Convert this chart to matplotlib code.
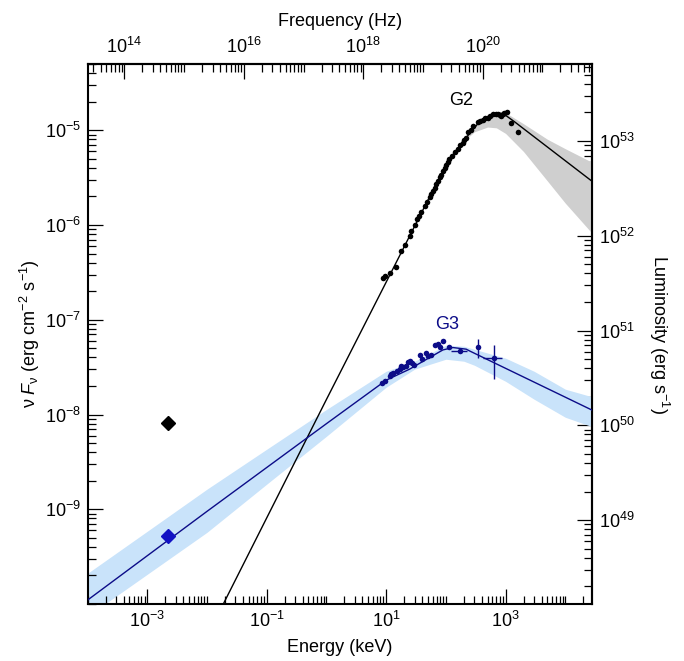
import matplotlib
matplotlib.use('Agg')
import matplotlib.pyplot as plt
from matplotlib.ticker import FixedLocator, LogLocator, LogFormatterSciNotation, NullFormatter
import numpy as np

plt.rcParams['font.family'] = ['Liberation Sans', 'DejaVu Sans']
plt.rcParams['mathtext.fontset'] = 'custom'
plt.rcParams['mathtext.rm'] = 'Liberation Sans'
plt.rcParams['mathtext.it'] = 'Liberation Sans:italic'
plt.rcParams['mathtext.bf'] = 'Liberation Sans:bold'
plt.rcParams['font.size'] = 13

# conversions for the secondary axes
KEV_TO_HZ = 2.418e17
FLUX_TO_LUM = 1.3e58

# G2 (black) spectrum, energies in keV, nuFnu in erg cm-2 s-1
g2_e = [8.83, 9.6, 11.7, 14.4, 17.5, 20.4, 24.7, 26.4, 30, 33, 36, 38.8, 44.1, 48,
        53.4, 57, 60.6, 65, 69.1, 74, 78.5, 84, 89.1, 95, 102, 108, 115, 125, 140,
        159, 175, 192, 205, 219, 233, 260, 290, 343, 380, 416, 450, 504, 550, 611,
        680, 741, 800, 844, 900, 959, 1047]
g2_f = [2.79e-7, 2.9e-7, 3.15e-7, 3.61e-7, 5.32e-7, 6.11e-7, 7.66e-7, 8.65e-7, 1.0e-6,
        1.15e-6, 1.25e-6, 1.37e-6, 1.59e-6, 1.75e-6, 1.95e-6, 2.1e-6, 2.29e-6, 2.45e-6,
        2.69e-6, 2.9e-6, 3.17e-6, 3.4e-6, 3.72e-6, 4.0e-6, 4.27e-6, 4.6e-6, 4.94e-6,
        5.3e-6, 5.82e-6, 6.41e-6, 6.9e-6, 7.41e-6, 7.9e-6, 8.37e-6, 9.59e-6, 1.0e-5,
        1.1e-5, 1.22e-5, 1.25e-5, 1.29e-5, 1.33e-5, 1.36e-5, 1.42e-5, 1.47e-5, 1.5e-5,
        1.47e-5, 1.45e-5, 1.40e-5, 1.5e-5, 1.51e-5, 1.54e-5]
g2_err_e = [1241, 1600]
g2_err_f = [1.18e-5, 9.59e-6]
g2_err_xlo = [60, 80]
g2_err_xhi = [60, 90]

g2_model_e = [0.018, 1.0, 10, 60, 85, 115, 219, 339, 498, 731, 995, 1407, 30000]
g2_model_f = [9.5e-11, 1.44e-8, 2.49e-7, 2.29e-6, 3.4e-6, 4.94e-6, 8.37e-6, 1.16e-5,
              1.39e-5, 1.49e-5, 1.44e-5, 1.23e-5, 2.8e-6]
g2_band_e = [150, 200, 300, 500, 700, 1000, 2000, 5000, 10000, 30000]
g2_band_lo = [6.15e-6, 7.65e-6, 9.62e-6, 1.08e-5, 1.06e-5, 9.25e-6, 5.95e-6, 2.92e-6, 1.70e-6, 7.8e-7]
g2_band_hi = [6.46e-6, 8.04e-6, 1.10e-5, 1.48e-5, 1.57e-5, 1.53e-5, 1.17e-5, 8.04e-6, 6.38e-6, 4.49e-6]

# G3 (blue) spectrum
g3_e = [8.64, 9.44, 11.4, 12.2, 13.0, 15.2, 16.8, 17.9, 19.1, 21.2, 23.2, 24.7, 27.4,
        29.2, 36.3, 40.3, 45.8, 50.0, 57.0, 64.7, 73.5, 78.5, 89.1, 111]
g3_f = [2.17e-8, 2.26e-8, 2.55e-8, 2.66e-8, 2.72e-8, 2.88e-8, 3.05e-8, 3.25e-8, 3.21e-8,
        3.25e-8, 3.59e-8, 3.68e-8, 3.47e-8, 3.31e-8, 4.22e-8, 3.89e-8, 4.51e-8, 4.15e-8,
        4.22e-8, 5.38e-8, 5.51e-8, 5.21e-8, 5.97e-8, 5.21e-8]
g3_err_e = [174, 343, 652]
g3_err_f = [4.66e-8, 5.13e-8, 3.93e-8]
g3_err_xlo = [50, 8, 241]
g3_err_xhi = [48, 8, 235]
g3_err_ylo = [1.0e-9, 1.2e-8, 1.57e-8]
g3_err_yhi = [1.0e-9, 1.09e-8, 1.45e-8]

g3_model_e = [1e-4, 1e-2, 1, 10, 24.7, 53.4, 89.1, 131, 219, 249, 30000]
g3_model_f = [1.1e-10, 9.5e-10, 8.0e-9, 2.3e-8, 3.01e-8, 3.99e-8, 4.80e-8, 5.09e-8,
              4.89e-8, 4.69e-8, 1.09e-8]
g3_band_e = [1e-4, 1e-3, 1e-2, 0.1, 1, 10, 30, 100, 200, 300, 1000, 3000, 10000, 30000]
g3_band_hi = [2.11e-10, 5.86e-10, 1.63e-9, 4.30e-9, 1.13e-8, 2.86e-8, 3.65e-8, 5.38e-8,
              5.25e-8, 4.88e-8, 3.93e-8, 2.86e-8, 1.85e-8, 1.52e-8]
g3_band_lo = [7.43e-11, 2.06e-10, 5.71e-10, 1.84e-9, 5.89e-9, 1.94e-8, 3.01e-8, 3.83e-8,
              3.65e-8, 3.31e-8, 2.24e-8, 1.45e-8, 9.35e-9, 7.33e-9]

# optical points
opt_e = 2.2e-3
opt_black_f = 8.1e-9
opt_blue_f = 5.2e-10
opt_blue_ferr = 5e-11

navy = '#0c0c88'
fig = plt.figure(figsize=(6.84, 6.61), dpi=100)
ax = fig.add_axes([0.128, 0.0862, 0.7375, 0.8170])

ax.fill_between(g3_band_e, g3_band_lo, g3_band_hi, color='#c9e3fa', lw=0, zorder=1)
ax.fill_between(g2_band_e, g2_band_lo, g2_band_hi, color='#cfcfcf', lw=0, zorder=1)
ax.plot(g2_model_e, g2_model_f, color='black', lw=1.0, zorder=3)
ax.plot(g3_model_e, g3_model_f, color=navy, lw=1.0, zorder=3)

ax.plot(g2_e, g2_f, 'o', color='black', ms=4, mew=0, zorder=4)
ax.errorbar(g2_err_e, g2_err_f, xerr=[g2_err_xlo, g2_err_xhi], fmt='o', color='black',
            ms=4, mew=0, elinewidth=1, capsize=0, zorder=4)
ax.plot(g3_e, g3_f, 'o', color=navy, ms=4, mew=0, zorder=4)
ax.errorbar(g3_err_e, g3_err_f, xerr=[g3_err_xlo, g3_err_xhi],
            yerr=[g3_err_ylo, g3_err_yhi], fmt='o', color=navy, ms=4, mew=0,
            elinewidth=1, capsize=0, zorder=4)

ax.plot(opt_e, opt_black_f, 'D', color='black', ms=7, zorder=5)
ax.errorbar(opt_e, opt_blue_f, yerr=[[opt_blue_ferr], [0]], fmt='D', color='#1212c4',
            ms=7, elinewidth=1, capsize=0, zorder=5)

ax.text(183, 2.07e-5, 'G2', ha='center', va='center', fontsize=13, color='black')
ax.text(103, 9.0e-8, 'G3', ha='center', va='center', fontsize=13, color=navy)

ax.set_xscale('log')
ax.set_yscale('log')
ax.set_xlim(1e-4, 2.8e4)
ax.set_ylim(1e-10, 5e-5)

ax.xaxis.set_major_locator(FixedLocator([1e-3, 1e-1, 1e1, 1e3]))
ax.xaxis.set_minor_locator(LogLocator(base=10, subs=np.arange(1, 10), numticks=100))
ax.xaxis.set_major_formatter(LogFormatterSciNotation())
ax.xaxis.set_minor_formatter(NullFormatter())
ax.yaxis.set_major_locator(FixedLocator([1e-9, 1e-8, 1e-7, 1e-6, 1e-5]))
ax.yaxis.set_minor_locator(LogLocator(base=10, subs=np.arange(1, 10), numticks=100))
ax.yaxis.set_major_formatter(LogFormatterSciNotation())
ax.yaxis.set_minor_formatter(NullFormatter())

ax.set_xlabel('Energy (keV)', fontsize=13, labelpad=6)
ax.set_ylabel(r'$\mathrm{\nu}\ F_{\mathrm{\nu}}$ (erg cm$^{-2}$ s$^{-1}$)', fontsize=13, labelpad=2)

top = ax.secondary_xaxis('top', functions=(lambda e: e * KEV_TO_HZ, lambda n: n / KEV_TO_HZ))
top.xaxis.set_major_locator(FixedLocator([1e14, 1e16, 1e18, 1e20]))
top.xaxis.set_minor_locator(LogLocator(base=10, subs=np.arange(1, 10), numticks=100))
top.xaxis.set_major_formatter(LogFormatterSciNotation())
top.xaxis.set_minor_formatter(NullFormatter())
top.set_xlabel('Frequency (Hz)', fontsize=13, labelpad=8)

right = ax.secondary_yaxis('right', functions=(lambda f: f * FLUX_TO_LUM, lambda l: l / FLUX_TO_LUM))
right.yaxis.set_major_locator(FixedLocator([1e49, 1e50, 1e51, 1e52, 1e53]))
right.yaxis.set_minor_locator(LogLocator(base=10, subs=np.arange(1, 10), numticks=100))
right.yaxis.set_major_formatter(LogFormatterSciNotation())
right.yaxis.set_minor_formatter(NullFormatter())
right.set_ylabel(r'Luminosity (erg s$^{-1}$)', fontsize=13, rotation=270, labelpad=26)

for a in (ax, top, right):
    a.tick_params(which='major', direction='in', length=11, width=0.9, labelsize=13, pad=5)
    a.tick_params(which='minor', direction='in', length=5.5, width=0.9)
for s in ax.spines.values():
    s.set_linewidth(1.5)
for a in (top, right):
    for s in a.spines.values():
        s.set_linewidth(1.5)

fig.savefig('out.png', dpi=100)
